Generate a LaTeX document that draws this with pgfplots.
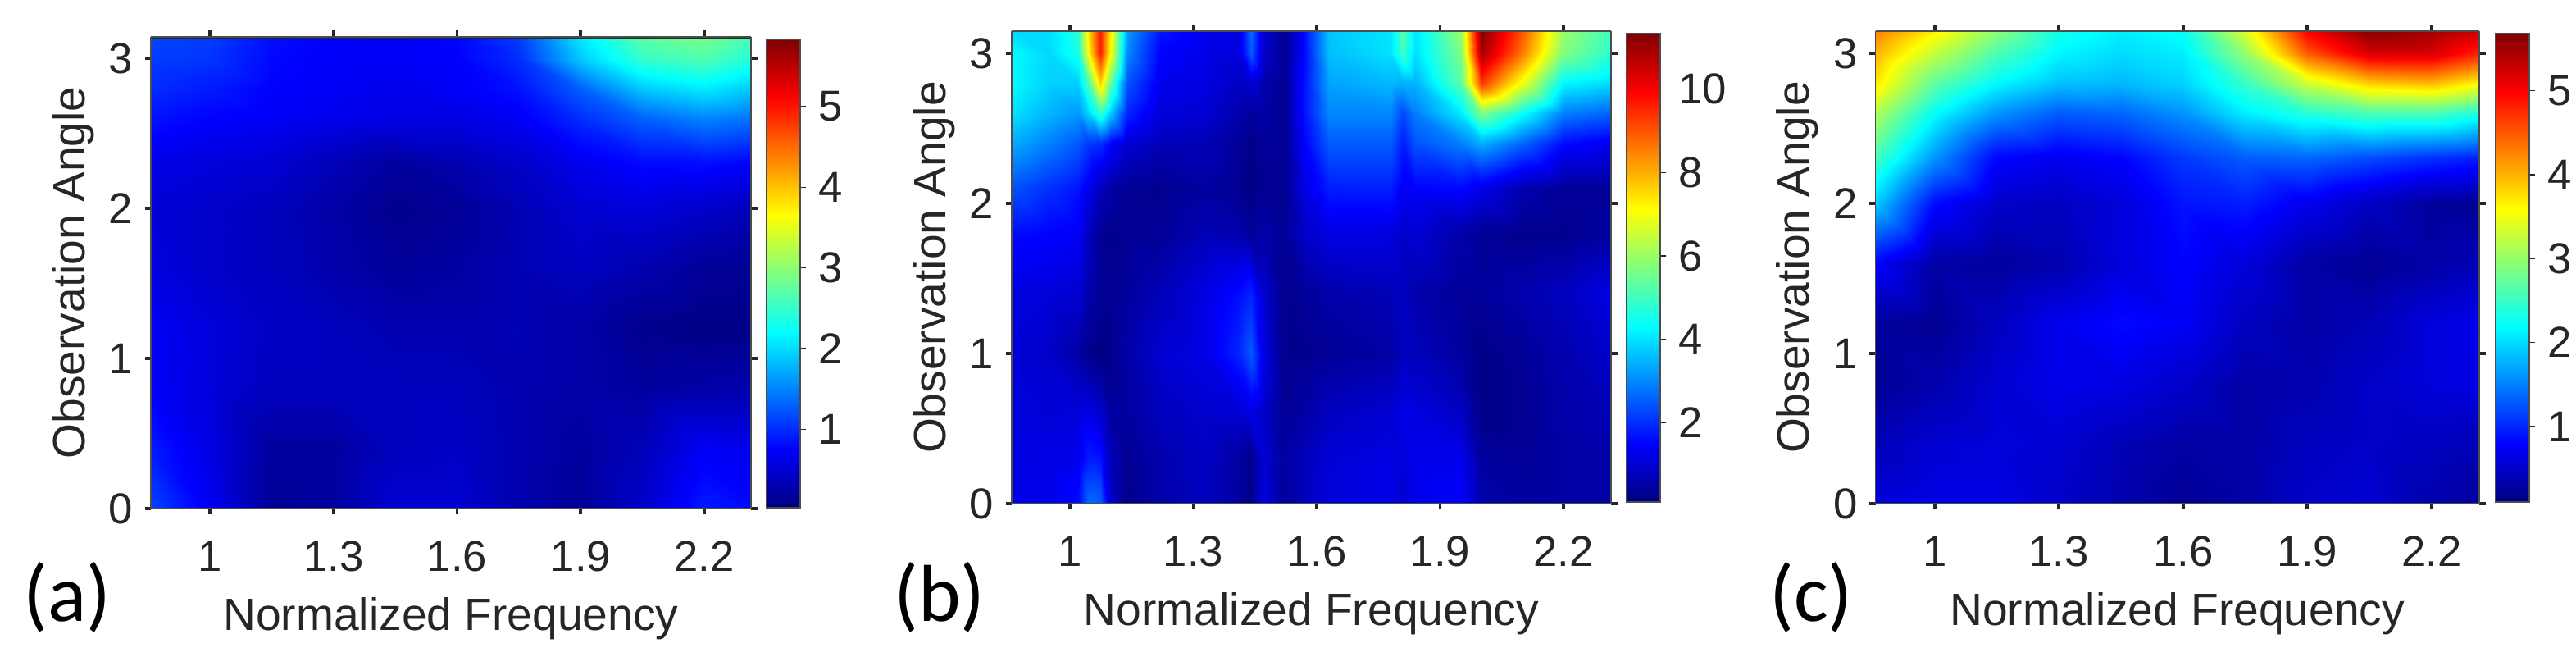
\documentclass[border=0pt]{standalone}
\usepackage{fontspec}
\setmainfont{Liberation Sans}
\newfontfamily\panelfont{Carlito}
\usepackage{pgfplots}
\pgfplotsset{compat=1.18}

\definecolor{inkgray}{HTML}{262626}

% 1 px of the reference = 0.01cm
\pgfplotsset{
  panel/.style={
    scale only axis,
    view={0}{90},
    colormap/jet,
    axis on top,
    ymin=0,
    xtick={1,1.3,1.6,1.9,2.2},
    xticklabels={1,1.3,1.6,1.9,2.2},
    ytick={0,1,2,3},
    tick align=outside,
    tick pos=both,
    major tick length=0.075cm,
    tick style={line width=1.1pt,color=inkgray},
    axis line style={line width=0.4pt,color=black!70},
    /pgf/number format/assume math mode=true,
    tick label style={font=\fontsize{15}{18}\selectfont,text=inkgray},
    x tick label style={yshift=-0.2cm},
    y tick label style={xshift=-0.02cm},
    label style={font=\fontsize{15.7}{18}\selectfont,text=inkgray},
    xlabel style={at={(axis description cs:0.5,-0.233)},anchor=center},
    ylabel style={at={(axis description cs:-0.13,0.5)},anchor=center},
    xlabel={Normalized Frequency},
    ylabel={Observation Angle},
    colorbar,
    colorbar shift/.style={xshift=0.19cm},
  },
  bar/.style={
    at={(parent axis.south east)},
    anchor=south west,
    yshift=#1,
    width=0.41cm,
    height=5.71cm,
    axis line style={line width=0.4pt,color=black!70},
    tick align=outside,
    ytick pos=right,
    yticklabel pos=right,
    major tick length=0.07cm,
    tick style={line width=0.35pt,color=inkgray},
    /pgf/number format/assume math mode=true,
    tick label style={font=\fontsize{15}{18}\selectfont,text=inkgray},
    y tick label style={xshift=0.03cm},
  },
}

\begin{document}
\begin{tikzpicture}
\path[use as bounding box] (0,0) rectangle (31.42,8.12);

% panel a
\begin{axis}[panel,
  at={(1.84cm,1.92cm)},anchor=south west,
  width=7.32cm,height=5.75cm,
  xmin=0.857,xmax=2.313,ymax=3.145,
  point meta min=0.03,point meta max=5.83,
  colorbar style={bar=0.01cm,ytick={1,2,3,4,5}},
]
\addplot3[surf,shader=interp,mesh/cols=11] coordinates {
(0.857,0,1.15) (1,0,0.68) (1.15,0,0.15) (1.3,0,0.2) (1.45,0,0.5) (1.6,0,0.5) (1.75,0,0.3) (1.9,0,0.15) (2.05,0,0.45) (2.2,0,0.9) (2.313,0,0.8)
(0.857,0.4,0.9) (1,0.4,0.6) (1.15,0.4,0.2) (1.3,0.4,0.2) (1.45,0.4,0.38) (1.6,0.4,0.42) (1.75,0.4,0.3) (1.9,0.4,0.2) (2.05,0.4,0.35) (2.2,0.4,0.7) (2.313,0.4,0.65)
(0.857,0.8,0.72) (1,0.8,0.55) (1.15,0.8,0.38) (1.3,0.8,0.38) (1.45,0.8,0.38) (1.6,0.8,0.38) (1.75,0.8,0.3) (1.9,0.8,0.25) (2.05,0.8,0.2) (2.2,0.8,0.25) (2.313,0.8,0.3)
(0.857,1.2,0.72) (1,1.2,0.55) (1.15,1.2,0.42) (1.3,1.2,0.38) (1.45,1.2,0.3) (1.6,1.2,0.3) (1.75,1.2,0.33) (1.9,1.2,0.25) (2.05,1.2,0.1) (2.2,1.2,0.06) (2.313,1.2,0.08)
(0.857,1.6,0.58) (1,1.6,0.45) (1.15,1.6,0.38) (1.3,1.6,0.28) (1.45,1.6,0.18) (1.6,1.6,0.22) (1.75,1.6,0.33) (1.9,1.6,0.4) (2.05,1.6,0.3) (2.2,1.6,0.17) (2.313,1.6,0.13)
(0.857,2,0.52) (1,2,0.45) (1.15,2,0.38) (1.3,2,0.24) (1.45,2,0.1) (1.6,2,0.16) (1.75,2,0.33) (1.9,2,0.5) (2.05,2,0.55) (2.2,2,0.45) (2.313,2,0.35)
(0.857,2.3,0.62) (1,2.3,0.55) (1.15,2.3,0.5) (1.3,2.3,0.35) (1.45,2.3,0.2) (1.6,2.3,0.3) (1.75,2.3,0.45) (1.9,2.3,0.65) (2.05,2.3,0.8) (2.2,2.3,0.82) (2.313,2.3,0.75)
(0.857,2.6,0.85) (1,2.6,0.75) (1.15,2.6,0.7) (1.3,2.6,0.65) (1.45,2.6,0.6) (1.6,2.6,0.6) (1.75,2.6,0.7) (1.9,2.6,1.0) (2.05,2.6,1.3) (2.2,2.6,1.5) (2.313,2.6,1.4)
(0.857,2.8,1.0) (1,2.8,0.9) (1.15,2.8,0.75) (1.3,2.8,0.7) (1.45,2.8,0.65) (1.6,2.8,0.7) (1.75,2.8,0.85) (1.9,2.8,1.3) (2.05,2.8,1.9) (2.2,2.8,2.1) (2.313,2.8,1.9)
(0.857,3,1.1) (1,3,1.05) (1.15,3,0.8) (1.3,3,0.72) (1.45,3,0.7) (1.6,3,0.75) (1.75,3,1.0) (1.9,3,1.9) (2.05,3,2.5) (2.2,3,2.65) (2.313,3,2.4)
(0.857,3.145,1.15) (1,3.145,1.1) (1.15,3.145,0.82) (1.3,3.145,0.75) (1.45,3.145,0.72) (1.6,3.145,0.78) (1.75,3.145,1.1) (1.9,3.145,2.1) (2.05,3.145,2.75) (2.2,3.145,2.9) (2.313,3.145,2.6)
};
\draw[line width=1pt,color=inkgray] (rel axis cs:0,1) -- (rel axis cs:1,1);
\end{axis}

% panel b
\begin{axis}[panel,
  at={(12.34cm,1.98cm)},anchor=south west,
  width=7.31cm,height=5.76cm,
  xmin=0.858,xmax=2.316,ymax=3.147,
  point meta min=0.1,point meta max=11.33,
  colorbar style={bar=0.02cm,ytick={2,4,6,8,10}},
]
\addplot3[surf,shader=interp,mesh/cols=23] coordinates {
(0.858,0,1.25) (0.95,0,1.3) (1.02,0,1.6) (1.045,0,2.7) (1.073,0,2.6) (1.1,0,0.9) (1.14,0,0.2) (1.22,0,0.55) (1.33,0,0.8) (1.41,0,0.4) (1.44,0,0.15) (1.47,0,1.2) (1.52,0,0.35) (1.57,0,0.75) (1.63,0,1.1) (1.78,0,1.25) (1.81,0,0.95) (1.84,0,1.3) (1.95,0,1.45) (2,0,0.6) (2.1,0,0.45) (2.2,0,0.5) (2.316,0,0.5)
(0.858,0.3,1.2) (0.95,0.3,1.2) (1.02,0.3,1.3) (1.045,0.3,1.8) (1.073,0.3,1.7) (1.1,0.3,0.75) (1.14,0.3,0.3) (1.22,0.3,0.6) (1.33,0.3,0.85) (1.41,0.3,0.5) (1.44,0.3,0.25) (1.47,0.3,1.05) (1.52,0.3,0.45) (1.57,0.3,0.75) (1.63,0.3,1.05) (1.78,0.3,1.2) (1.81,0.3,1.1) (1.84,0.3,1.3) (1.95,0.3,1.3) (2,0.3,0.45) (2.1,0.3,0.35) (2.2,0.3,0.5) (2.316,0.3,0.55)
(0.858,0.6,1.15) (0.95,0.6,1.05) (1.02,0.6,1.1) (1.045,0.6,1.25) (1.073,0.6,1.0) (1.1,0.6,0.5) (1.14,0.6,0.45) (1.22,0.6,0.75) (1.33,0.6,0.95) (1.41,0.6,1.0) (1.44,0.6,1.2) (1.47,0.6,0.9) (1.52,0.6,0.3) (1.57,0.6,0.5) (1.63,0.6,0.8) (1.78,0.6,1.0) (1.81,0.6,1.25) (1.84,0.6,1.15) (1.95,0.6,0.85) (2,0.6,0.2) (2.1,0.6,0.3) (2.2,0.6,0.55) (2.316,0.6,0.7)
(0.858,1,1.05) (0.95,1,0.9) (1.02,1,0.5) (1.045,1,0.2) (1.073,1,0.15) (1.1,1,0.2) (1.14,1,0.55) (1.22,1,1.0) (1.33,1,1.25) (1.41,1,1.9) (1.44,1,2.5) (1.47,1,1.2) (1.52,1,0.25) (1.57,1,0.25) (1.63,1,0.35) (1.78,1,0.5) (1.81,1,0.8) (1.84,1,0.75) (1.95,1,0.45) (2,1,0.2) (2.1,1,0.35) (2.2,1,0.6) (2.316,1,0.95)
(0.858,1.4,1.2) (0.95,1.4,1.1) (1.02,1.4,1.0) (1.045,1.4,0.6) (1.073,1.4,0.35) (1.1,1.4,0.3) (1.14,1.4,0.4) (1.22,1.4,0.7) (1.33,1.4,1.2) (1.41,1.4,1.6) (1.44,1.4,1.9) (1.47,1.4,1.0) (1.52,1.4,0.25) (1.57,1.4,0.4) (1.63,1.4,0.55) (1.78,1.4,0.7) (1.81,1.4,0.8) (1.84,1.4,0.6) (1.95,1.4,0.35) (2,1.4,0.4) (2.1,1.4,0.6) (2.2,1.4,0.8) (2.316,1.4,1.2)
(0.858,1.8,1.6) (0.95,1.8,1.5) (1.02,1.8,1.4) (1.045,1.8,0.8) (1.073,1.8,0.3) (1.1,1.8,0.25) (1.14,1.8,0.3) (1.22,1.8,0.35) (1.33,1.8,0.7) (1.41,1.8,0.6) (1.44,1.8,0.35) (1.47,1.8,0.6) (1.52,1.8,0.35) (1.57,1.8,0.9) (1.63,1.8,1.2) (1.78,1.8,1.15) (1.81,1.8,0.9) (1.84,1.8,1.05) (1.95,1.8,0.55) (2,1.8,0.3) (2.1,1.8,0.25) (2.2,1.8,0.25) (2.316,1.8,0.45)
(0.858,2.1,2.4) (0.95,2.1,2.0) (1.02,2.1,1.7) (1.045,2.1,1.3) (1.073,2.1,0.8) (1.1,2.1,0.5) (1.14,2.1,0.3) (1.22,2.1,0.25) (1.33,2.1,0.45) (1.41,2.1,0.3) (1.44,2.1,0.15) (1.47,2.1,0.3) (1.52,2.1,0.3) (1.57,2.1,1.2) (1.63,2.1,1.8) (1.78,2.1,1.85) (1.81,2.1,1.35) (1.84,2.1,1.5) (1.95,2.1,1.55) (2,2.1,1.25) (2.1,2.1,0.6) (2.2,2.1,0.35) (2.316,2.1,0.35)
(0.858,2.4,3.4) (0.95,2.4,2.9) (1.02,2.4,2.5) (1.045,2.4,2.1) (1.073,2.4,2.0) (1.1,2.4,1.5) (1.14,2.4,1.0) (1.22,2.4,0.7) (1.33,2.4,0.7) (1.41,2.4,0.35) (1.44,2.4,0.2) (1.47,2.4,0.4) (1.52,2.4,0.3) (1.57,2.4,1.5) (1.63,2.4,2.5) (1.78,2.4,2.5) (1.81,2.4,1.8) (1.84,2.4,2.4) (1.95,2.4,2.9) (2,2.4,3.4) (2.1,2.4,2.6) (2.2,2.4,1.6) (2.316,2.4,1.3)
(0.858,2.6,4.0) (0.95,2.6,3.5) (1.02,2.6,3.2) (1.045,2.6,3.9) (1.073,2.6,4.9) (1.1,2.6,3.7) (1.14,2.6,1.9) (1.22,2.6,1.1) (1.33,2.6,1.0) (1.41,2.6,0.6) (1.44,2.6,0.4) (1.47,2.6,0.5) (1.52,2.6,0.3) (1.57,2.6,1.7) (1.63,2.6,3.0) (1.78,2.6,3.0) (1.81,2.6,2.3) (1.84,2.6,2.9) (1.95,2.6,4.1) (2,2.6,5.7) (2.1,2.6,4.4) (2.2,2.6,2.9) (2.316,2.6,2.6)
(0.858,2.8,4.3) (0.95,2.8,3.8) (1.02,2.8,3.8) (1.045,2.8,5.2) (1.073,2.8,7.6) (1.1,2.8,5.3) (1.14,2.8,2.4) (1.22,2.8,1.3) (1.33,2.8,1.15) (1.41,2.8,0.85) (1.44,2.8,1.0) (1.47,2.8,0.6) (1.52,2.8,0.3) (1.57,2.8,1.7) (1.63,2.8,3.3) (1.78,2.8,3.55) (1.81,2.8,3.4) (1.84,2.8,3.45) (1.95,2.8,5.3) (2,2.8,9.3) (2.1,2.8,6.9) (2.2,2.8,4.2) (2.316,2.8,3.9)
(0.858,3,4.3) (0.95,3,3.9) (1.02,3,4.6) (1.045,3,7.2) (1.073,3,9.6) (1.1,3,7.0) (1.14,3,3.0) (1.22,3,1.5) (1.33,3,1.25) (1.41,3,1.1) (1.44,3,2.5) (1.47,3,0.9) (1.52,3,0.3) (1.57,3,1.6) (1.63,3,3.6) (1.78,3,4.0) (1.81,3,5.0) (1.84,3,3.95) (1.95,3,5.7) (2,3,10.9) (2.1,3,8.6) (2.2,3,5.7) (2.316,3,4.8)
(0.858,3.147,3.9) (0.95,3.147,3.95) (1.02,3.147,4.8) (1.045,3.147,7.5) (1.073,3.147,9.7) (1.1,3.147,7.3) (1.14,3.147,3.2) (1.22,3.147,1.7) (1.33,3.147,1.3) (1.41,3.147,1.15) (1.44,3.147,2.7) (1.47,3.147,1.0) (1.52,3.147,0.3) (1.57,3.147,1.6) (1.63,3.147,3.7) (1.78,3.147,4.05) (1.81,3.147,5.3) (1.84,3.147,4.05) (1.95,3.147,6.0) (2,3.147,11.3) (2.1,3.147,9.0) (2.2,3.147,6.0) (2.316,3.147,5.0)
};
\draw[line width=0.7pt,color=inkgray] (rel axis cs:0,1) -- (rel axis cs:1,1);
\end{axis}

% panel c
\begin{axis}[panel,
  at={(22.875cm,1.98cm)},anchor=south west,
  width=7.365cm,height=5.76cm,
  xmin=0.857,xmax=2.315,ymax=3.147,
  point meta min=0.1,point meta max=5.68,
  colorbar shift/.style={xshift=0.2cm},
  colorbar style={bar=0.02cm,ytick={1,2,3,4,5}},
]
\addplot3[surf,shader=interp,mesh/cols=11] coordinates {
(0.857,0,0.6) (1,0,0.65) (1.15,0,0.65) (1.3,0,0.5) (1.45,0,0.35) (1.6,0,0.2) (1.75,0,0.3) (1.9,0,0.5) (2.05,0,0.55) (2.2,0,0.35) (2.315,0,0.25)
(0.857,0.4,0.4) (1,0.4,0.55) (1.15,0.4,0.6) (1.3,0.4,0.55) (1.45,0.4,0.4) (1.6,0.4,0.3) (1.75,0.4,0.3) (1.9,0.4,0.45) (2.05,0.4,0.5) (2.2,0.4,0.45) (2.315,0.4,0.4)
(0.857,0.8,0.2) (1,0.8,0.35) (1.15,0.8,0.55) (1.3,0.8,0.7) (1.45,0.8,0.65) (1.6,0.8,0.5) (1.75,0.8,0.3) (1.9,0.8,0.35) (2.05,0.8,0.5) (2.2,0.8,0.6) (2.315,0.8,0.65)
(0.857,1.2,0.25) (1,1.2,0.2) (1.15,1.2,0.45) (1.3,1.2,0.7) (1.45,1.2,0.85) (1.6,1.2,0.75) (1.75,1.2,0.45) (1.9,1.2,0.3) (2.05,1.2,0.4) (2.2,1.2,0.6) (2.315,1.2,0.7)
(0.857,1.6,0.8) (1,1.6,0.3) (1.15,1.6,0.25) (1.3,1.6,0.35) (1.45,1.6,0.6) (1.6,1.6,0.8) (1.75,1.6,0.6) (1.9,1.6,0.3) (2.05,1.6,0.2) (2.2,1.6,0.3) (2.315,1.6,0.4)
(0.857,2,1.9) (1,2,0.85) (1.15,2,0.5) (1.3,2,0.45) (1.45,2,0.6) (1.6,2,0.9) (1.75,2,0.95) (1.9,2,0.7) (2.05,2,0.45) (2.2,2,0.25) (2.315,2,0.2)
(0.857,2.3,2.55) (1,2.3,1.6) (1.15,2.3,0.8) (1.3,2.3,0.7) (1.45,2.3,0.8) (1.6,2.3,1.1) (1.75,2.3,1.3) (1.9,2.3,1.35) (2.05,2.3,1.2) (2.2,2.3,1.05) (2.315,2.3,0.95)
(0.857,2.6,3.15) (1,2.6,2.2) (1.15,2.6,1.6) (1.3,2.6,1.3) (1.45,2.6,1.35) (1.6,2.6,1.6) (1.75,2.6,2.1) (1.9,2.6,2.4) (2.05,2.6,2.6) (2.2,2.6,2.6) (2.315,2.6,2.35)
(0.857,2.8,3.7) (1,2.8,2.7) (1.15,2.8,2.15) (1.3,2.8,1.85) (1.45,2.8,1.8) (1.6,2.8,1.95) (1.75,2.8,2.5) (1.9,2.8,3.3) (2.05,2.8,3.85) (2.2,2.8,3.95) (2.315,2.8,3.6)
(0.857,3,4.0) (1,3,3.25) (1.15,3,2.6) (1.3,3,2.15) (1.45,3,2.0) (1.6,3,2.1) (1.75,3,3.0) (1.9,3,4.5) (2.05,3,5.2) (2.2,3,5.2) (2.315,3,4.8)
(0.857,3.147,4.3) (1,3.147,3.65) (1.15,3.147,2.95) (1.3,3.147,2.3) (1.45,3.147,2.1) (1.6,3.147,2.25) (1.75,3.147,3.4) (1.9,3.147,5.0) (2.05,3.147,5.65) (2.2,3.147,5.5) (2.315,3.147,5.3)
};
\draw[line width=0.7pt,color=inkgray] (rel axis cs:0,1) -- (rel axis cs:1,1);
\end{axis}

\node[font=\panelfont\fontsize{28}{32}\selectfont] at (0.82,0.84) {(a)};
\node[font=\panelfont\fontsize{28}{32}\selectfont] at (11.46,0.84) {(b)};
\node[font=\panelfont\fontsize{28}{32}\selectfont] at (22.09,0.84) {(c)};
\end{tikzpicture}
\end{document}
